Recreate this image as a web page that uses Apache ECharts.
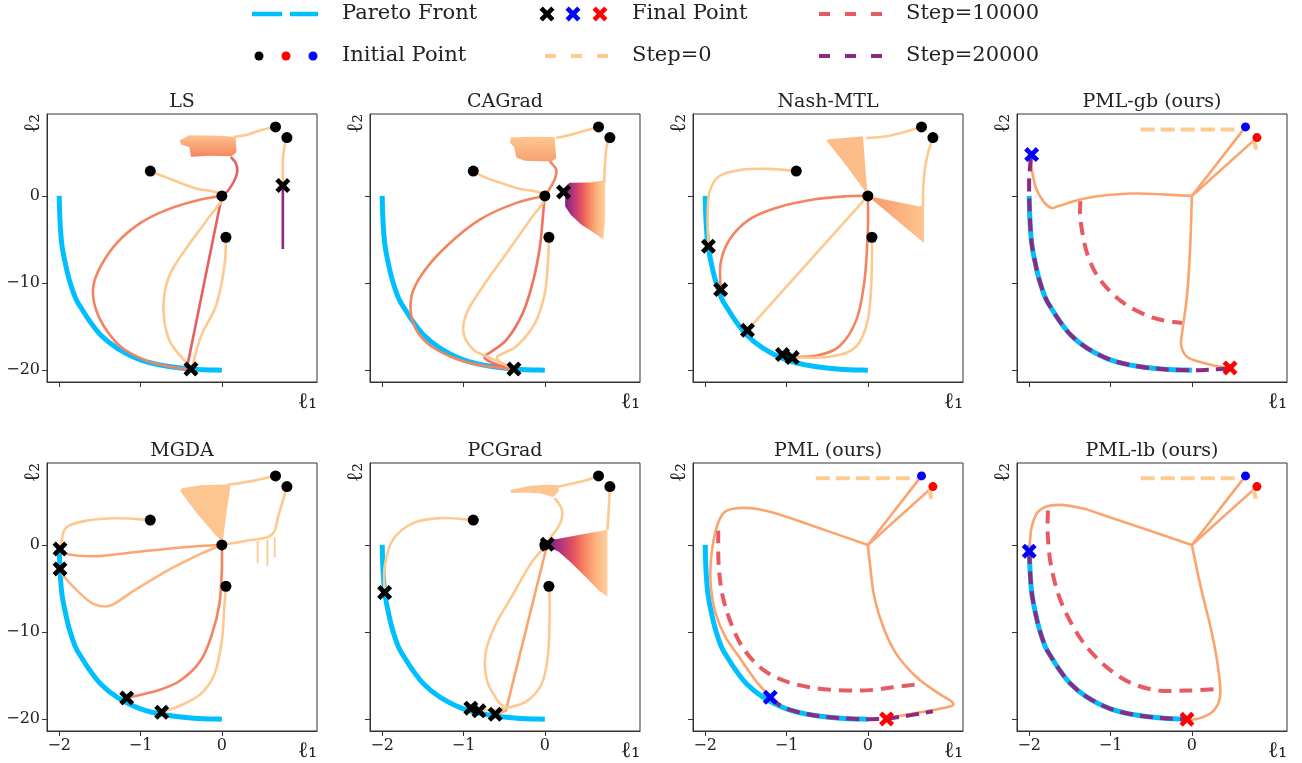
<!DOCTYPE html>
<html><head><meta charset="utf-8">
<script src="https://cdn.jsdelivr.net/npm/echarts@6/dist/echarts.min.js"></script>
<style>html,body{margin:0;padding:0;background:#fff}#c{width:1302px;height:763px}</style>
</head><body><div id="c"></div>
<script>
// ---------- tick labels / shared data ----------
const xTicks = [-2, -1, 0];
const yTicks = [-20, -10, 0];
const panelTitles = ['LS', 'CAGrad', 'Nash-MTL', 'PML-gb (ours)', 'MGDA', 'PCGrad', 'PML (ours)', 'PML-lb (ours)'];

const paretoFront = [[-2,0],[-1.995,-1.8],[-1.985,-3.7],[-1.967,-5.6],[-1.93,-7.5],[-1.88,-9.5],[-1.80,-11.7],[-1.72,-13.0],[-1.63,-14.3],[-1.49,-15.95],[-1.29,-17.45],[-1.0,-18.8],[-0.67,-19.55],[-0.34,-19.88],[0,-20]];
const initPts = [[0.66,7.92],[0.8,6.69],[-0.88,2.85],[0,0],[0.05,-4.74]];
const initBlue = [0.66,7.92];
const initRed = [0.8,6.69];

// ---------- LS ----------
const LS_A_in = [[0.66,7.92],[0.48,7.53],[0.32,7.04],[0.15,6.77]];
const LS_A_out = [[0.11,4.47],[0.17,3.79],[0.19,2.83],[0.15,1.68],[0.07,0.54],[0,0]];
const LS_A_str = [[0,0],[-0.42,-19.3],[-0.38,-19.85]];
const LS_D = [[0,0],[-0.26,-0.42],[-0.67,-1.57],[-1.0,-3.1],[-1.29,-5.39],[-1.49,-8.07],[-1.58,-10.36],[-1.56,-12.66],[-1.45,-14.95],[-1.25,-17.25],[-0.96,-18.78],[-0.67,-19.54],[-0.38,-19.9]];
const LS_C = [[-0.88,2.85],[-0.67,2.07],[-0.34,0.92],[0,0],[-0.18,-2.72],[-0.42,-5.77],[-0.63,-8.83],[-0.71,-11.51],[-0.71,-14.19],[-0.63,-16.86],[-0.45,-19.0],[-0.38,-19.8]];
const LS_E = [[0.05,-4.74],[0.04,-7.3],[-0.01,-10.36],[-0.09,-13.04],[-0.24,-15.72],[-0.32,-18.0],[-0.36,-19.6]];
const LS_B = [[0.8,6.69],[0.77,5.7],[0.75,4.17],[0.75,1.87],[0.75,1.19]];
const LS_B_late = [[0.75,1.19],[0.75,-6.1]];
const LS_cloud = [[-0.52,6.35],[-0.4,6.95],[0.0,6.9],[0.17,6.75],[0.18,5.0],[0.12,4.55],[-0.15,4.6],[-0.38,4.5],[-0.4,5.6],[-0.5,5.9]];
const LS_final = [[-0.38,-19.85],[0.75,1.19]];

// ---------- CAGrad ----------
const CA_A_in = [[0.66,7.92],[0.47,7.42],[0.27,6.92],[0.14,6.65]];
const CA_A_out = [[0.06,3.98],[0.14,3.02],[0.12,1.87],[0.04,0.54],[0,0]];
const CA_A_down = [[0,0],[-0.02,-1.95],[-0.06,-5.77],[-0.14,-9.6],[-0.27,-13.42],[-0.47,-16.48],[-0.68,-18.0],[-0.74,-18.59],[-0.59,-19.35],[-0.39,-19.85]];
const CA_D = [[0,0],[-0.35,-0.8],[-0.80,-2.72],[-1.21,-5.77],[-1.50,-8.83],[-1.64,-11.51],[-1.62,-14.57],[-1.45,-16.86],[-1.17,-18.39],[-0.84,-19.35],[-0.43,-19.85]];
const CA_C = [[-0.88,2.85],[-0.72,2.07],[-0.35,0.92],[0,0],[-0.18,-2.72],[-0.47,-6.54],[-0.76,-10.36],[-0.96,-13.42],[-1.0,-15.72],[-0.88,-17.63],[-0.72,-18.39],[-0.43,-19.6]];
const CA_E = [[0.05,-4.74],[0.04,-7.3],[0,-11.13],[-0.12,-14.57],[-0.35,-17.25],[-0.59,-18.5],[-0.45,-19.6]];
const CA_B = [[0.8,6.69],[0.76,5.7],[0.74,3.79],[0.73,1.87],[0.74,1.5]];
const CA_cloud1 = [[-0.43,6.1],[-0.42,6.7],[-0.2,6.8],[0.12,6.75],[0.14,4.3],[0.08,3.95],[-0.25,4.05],[-0.35,4.4],[-0.38,5.6]];
const CA_cloud2 = [[0.25,0.9],[0.30,1.5],[0.55,1.55],[0.74,1.8],[0.74,-2.9],[0.72,-5.0],[0.6,-4.2],[0.45,-3.3],[0.32,-2.2],[0.25,-1.2]];
const CA_final = [[0.23,0.46],[-0.38,-19.85]];

// ---------- Nash-MTL ----------
const NA_A = [[0.66,7.92],[0.48,7.42],[0.23,6.85],[-0.02,6.65]];
const NA_B = [[0.8,6.69],[0.74,4.93],[0.70,3.02],[0.68,0.73],[0.68,-1.2]];
const NA_C = [[-0.88,2.85],[-1.21,3.1],[-1.54,3.02],[-1.83,2.26],[-1.95,0.34],[-1.97,-2.72],[-1.96,-5.77]];
const NA_D = [[0,0],[-0.26,-0.04],[-0.67,-0.42],[-1.13,-1.38],[-1.46,-2.72],[-1.70,-5.0],[-1.81,-7.69],[-1.81,-10.75]];
const NA_str = [[0,0],[-1.48,-15.41]];
const NA_down = [[0,0],[0,-3.86],[-0.04,-9.6],[-0.14,-14.19],[-0.35,-17.25],[-0.63,-18.32],[-0.94,-18.47]];
const NA_E = [[0.05,-4.74],[0.045,-9.6],[0,-14.19],[-0.14,-17.25],[-0.43,-18.39],[-0.92,-18.59]];
const NA_cloud1 = [[-0.51,6.35],[-0.47,6.5],[-0.06,6.85],[-0.02,1.9],[0,0.1],[-0.26,3.4]];
const NA_cloud2 = [[0,0],[0.64,-1.2],[0.69,-0.9],[0.69,-5.4]];
const NA_final = [[-1.96,-5.77],[-1.81,-10.75],[-1.48,-15.41],[-1.05,-18.2],[-0.93,-18.55]];

// ---------- PML-gb ----------
const GB_s0a = [[-0.63,7.62],[0.6,7.62]];
const GB_s0b = [[0.76,6.4],[0.80,5.1]];
const GB_blue = [[0.66,7.92],[0,0]];
const GB_red = [[0.8,6.69],[0,0]];
const GB_left = [[0,0],[-0.30,0.15],[-0.76,0.27],[-1.29,-0.23],[-1.62,-1.11],[-1.72,-1.38],[-1.81,-0.8],[-1.91,0.73],[-1.96,2.64],[-1.98,4.36],[-1.97,4.74]];
const GB_down = [[0,0],[-0.02,-5.77],[-0.06,-11.51],[-0.12,-15.72],[-0.13,-17.25],[-0.04,-18.59],[0.27,-19.46],[0.47,-19.73]];
const GB_s10 = [[-1.37,-0.61],[-1.37,-2.72],[-1.29,-6.54],[-1.13,-9.6],[-0.84,-12.28],[-0.47,-14.0],[-0.12,-14.57]];
const GB_s20 = [[-1.98,4.3],[-2.0,2.0],[-2.0,0],[-1.995,-1.8],[-1.985,-3.7],[-1.967,-5.6],[-1.93,-7.5],[-1.88,-9.5],[-1.80,-11.7],[-1.72,-13.0],[-1.63,-14.3],[-1.49,-15.95],[-1.29,-17.45],[-1.0,-18.8],[-0.67,-19.55],[-0.34,-19.88],[0,-20],[0.2,-19.95],[0.47,-19.8]];
const GB_finalBlue = [-1.97,4.74];
const GB_finalRed = [0.47,-19.73];

// ---------- MGDA ----------
const MG_A = [[0.66,7.92],[0.40,7.38],[0.15,7.0],[0.08,6.95]];
const MG_cloud = [[-0.51,6.2],[-0.49,6.5],[-0.26,6.85],[0.1,6.95],[0.10,6.3],[0.05,3.17],[0.01,0.3],[-0.09,1.26],[-0.30,3.56],[-0.49,5.9]];
const MG_B = [[0.8,6.69],[0.75,5.09],[0.69,3.17],[0.65,1.64],[0.56,0.88],[0.32,0.5],[0.07,0.11],[0,0]];
const MG_spike1 = [[0.44,0.45],[0.44,-2.1]];
const MG_spike2 = [[0.56,0.6],[0.56,-2.4]];
const MG_spike3 = [[0.65,0.9],[0.65,-1.4]];
const MG_D = [[0,0],[-0.47,-0.27],[-1.08,-0.84],[-1.58,-1.3],[-1.91,-1.03],[-1.99,-0.46]];
const MG_C = [[-0.88,2.85],[-1.29,3.06],[-1.66,2.79],[-1.91,2.03],[-1.97,0.5],[-1.99,-0.46]];
const MG_L = [[0,0],[-0.26,-1.03],[-0.67,-2.94],[-1.08,-5.24],[-1.37,-6.96],[-1.58,-6.77],[-1.78,-5.24],[-1.95,-3.52],[-1.99,-2.75]];
const MG_S = [[0,0],[0,-2.94],[-0.03,-6.77],[-0.12,-10.21],[-0.26,-13.27],[-0.51,-15.56],[-0.79,-16.71],[-1.17,-17.55]];
const MG_E = [[0.05,-4.74],[0.03,-7.15],[0,-10.97],[-0.09,-14.8],[-0.26,-17.09],[-0.51,-18.43],[-0.74,-19.2]];
const MG_final = [[-1.99,-0.46],[-1.99,-2.75],[-1.17,-17.55],[-0.74,-19.2]];

// ---------- PCGrad ----------
const PC_A = [[0.66,7.92],[0.46,7.3],[0.17,6.7]];
const PC_cloud1 = [[-0.42,6.3],[-0.2,6.75],[0.0,6.9],[0.17,6.85],[0.17,6.1],[0.1,5.5],[-0.05,5.9],[-0.2,6.0],[-0.42,6.0]];
const PC_A_out = [[0.12,5.38],[0.21,4.04],[0.19,2.5],[0.08,0.96],[0.03,0.08]];
const PC_cloud2 = [[0.06,0.3],[0.10,0.58],[0.4,1.1],[0.77,1.73],[0.77,-5.96],[0.66,-5.2],[0.50,-3.65],[0.33,-2.1],[0.17,-0.77],[0.08,-0.38]];
const PC_B = [[0.8,6.69],[0.79,4.8],[0.77,1.73]];
const PC_C = [[-0.88,2.85],[-1.29,3.08],[-1.62,2.5],[-1.87,0.58],[-1.97,-2.5],[-1.97,-5.46]];
const PC_str = [[0.03,0.08],[-0.48,-19.04],[-0.61,-19.42]];
const PC_L = [[0.03,0.08],[-0.17,-2.1],[-0.41,-5.96],[-0.62,-9.42],[-0.73,-12.5],[-0.71,-15.58],[-0.58,-17.88],[-0.5,-18.73],[-0.61,-19.42]];
const PC_E = [[0.05,-4.74],[0.06,-7.12],[0.04,-12.5],[-0.04,-15.96],[-0.25,-18.08],[-0.58,-18.85],[-0.83,-18.96]];
const PC_final = [[0.03,0.08],[-1.97,-5.46],[-0.91,-18.73],[-0.81,-19.04],[-0.61,-19.42]];

// ---------- PML ----------
const PM_s0a = [[-0.64,7.65],[0.6,7.65]];
const PM_s0b = [[0.76,6.4],[0.78,5.1]];
const PM_blue = [[0.66,7.92],[0,0]];
const PM_red = [[0.8,6.69],[0,0]];
const PM_left = [[0,0],[-0.51,1.64],[-1.05,3.37],[-1.34,4.09],[-1.58,4.24],[-1.75,3.86],[-1.83,2.79],[-1.89,0.88],[-1.93,-1.8],[-1.93,-4.86],[-1.87,-7.92],[-1.75,-10.59],[-1.58,-12.89],[-1.38,-15.56],[-1.20,-17.48]];
const PM_down = [[0,0],[0.03,-2.56],[0.08,-6.0],[0.19,-9.45],[0.35,-12.5],[0.60,-15.18],[0.88,-17.09],[1.04,-18.05],[1.01,-18.55],[0.72,-19.08],[0.31,-19.77],[0.23,-19.96]];
const PM_s10 = [[-1.84,1.64],[-1.83,-2.94],[-1.75,-7.15],[-1.54,-11.74],[-1.21,-14.8],[-0.72,-16.33],[-0.10,-16.71],[0.31,-16.33],[0.64,-15.95]];
const PM_s20 = [[-1.2,-17.6],[-1.0,-18.8],[-0.67,-19.55],[-0.34,-19.88],[0,-20],[0.3,-19.85],[0.8,-19.1]];
const PM_finalBlue = [-1.20,-17.48];
const PM_finalRed = [0.23,-19.96];

// ---------- PML-lb ----------
const LB_s0a = [[-0.63,7.65],[0.6,7.65]];
const LB_s0b = [[0.76,6.4],[0.79,5.1]];
const LB_blue = [[0.66,7.92],[0,0]];
const LB_red = [[0.8,6.69],[0,0]];
const LB_left = [[0,0],[-1.13,3.56],[-1.37,4.24],[-1.62,4.59],[-1.79,4.4],[-1.91,3.56],[-1.97,2.03],[-1.99,0.5],[-2.0,-0.73]];
const LB_down = [[0,0],[0.11,-4.86],[0.23,-9.45],[0.31,-13.27],[0.35,-17.09],[0.27,-19.0],[0.07,-19.96],[-0.06,-20.02]];
const LB_s10 = [[-1.77,3.94],[-1.77,0.88],[-1.72,-2.94],[-1.58,-7.15],[-1.29,-11.74],[-0.88,-15.18],[-0.47,-16.63],[-0.06,-16.71],[0.35,-16.52]];
const LB_s20 = [[-2.0,-0.73],[-1.995,-1.8],[-1.985,-3.7],[-1.967,-5.6],[-1.93,-7.5],[-1.88,-9.5],[-1.80,-11.7],[-1.72,-13.0],[-1.63,-14.3],[-1.49,-15.95],[-1.29,-17.45],[-1.0,-18.8],[-0.67,-19.55],[-0.34,-19.88],[-0.06,-20.0]];
const LB_finalBlue = [-2.0,-0.73];
const LB_finalRed = [-0.06,-20.0];

// ---------- styling ----------
const C = {front:'#00bfff', light:'#fec98f', lightD:'#fdb57f', salmon:'#f4845f', red:'#e8605e',
  redS:'#ef735d', pml:'#fba46f', s0:'#fdca90', s10:'#e85a62', s20:'#8c2981', axis:'#333', text:'#222'};
const FONT = 'DejaVu Serif';
const XPATH = 'path://M0,2.2 L2.2,0 L5,2.8 L7.8,0 L10,2.2 L7.2,5 L10,7.8 L7.8,10 L5,7.2 L2.2,10 L0,7.8 L2.8,5 Z';

const vGrad = (a, b) => ({type:'linear', x:0, y:0, x2:0, y2:1, colorStops:[{offset:0,color:a},{offset:1,color:b}]});
const hGrad = (stops) => ({type:'linear', x:0, y:0, x2:1, y2:0, colorStops:stops.map((c,i)=>({offset:i/(stops.length-1), color:c}))});
const magmaGrad = hGrad(['#7b2382','#b5367a','#e3505f','#f7845f','#fdb37e','#fdd0a0']);

const L = (d, c, w, extra) => Object.assign({d, c, w: w || 2.6}, extra || {});
const panels = [
  {lines:[L(LS_A_in,C.light),L(LS_A_out,C.red),L(LS_A_str,C.red,2.6,{straight:true}),L(LS_D,C.salmon),L(LS_C,C.light),L(LS_E,C.light),L(LS_B,C.light),L(LS_B_late,C.s20,2.6,{straight:true})],
   clouds:[{p:LS_cloud, f:vGrad('#fdc38c','#f5845f')}], inits:initPts.map(p=>({p,c:'#000'})), finals:LS_final.map(p=>({p,c:'#000'}))},
  {lines:[L(CA_A_in,C.light),L(CA_A_out,C.salmon),L(CA_A_down,C.redS),L(CA_D,C.salmon),L(CA_C,C.light),L(CA_E,C.light),L(CA_B,C.light)],
   clouds:[{p:CA_cloud1, f:vGrad('#fdc790','#f8a172')},{p:CA_cloud2, f:magmaGrad}], inits:initPts.map(p=>({p,c:'#000'})), finals:CA_final.map(p=>({p,c:'#000'}))},
  {lines:[L(NA_A,C.light),L(NA_B,C.light),L(NA_C,C.light),L(NA_D,C.salmon),L(NA_str,C.light,2.6,{straight:true}),L(NA_down,C.salmon),L(NA_E,C.light)],
   clouds:[{p:NA_cloud1, f:'#fdbd88'},{p:NA_cloud2, f:hGrad(['#f7966b','#fbae7b','#fdc590'])}], inits:initPts.map(p=>({p,c:'#000'})), finals:NA_final.map(p=>({p,c:'#000'}))},
  {lines:[L(GB_s0a,C.s0,4,{dash:[14,6],straight:true}),L(GB_s0b,C.s0,4,{dash:[10,4],straight:true}),L(GB_blue,C.pml,2.6,{straight:true}),L(GB_red,C.pml,2.6,{straight:true}),L(GB_left,C.pml),L(GB_down,C.pml),L(GB_s10,C.s10,4,{dash:[13,8]}),L(GB_s20,C.s20,4,{dash:[13,7]})],
   clouds:[], inits:[{p:initBlue,c:'#0000ff',s:9},{p:initRed,c:'#ff0000',s:9}], finals:[{p:GB_finalBlue,c:'#0000ff'},{p:GB_finalRed,c:'#ff0000'}]},
  {lines:[L(MG_A,C.light),L(MG_B,C.light),L(MG_spike1,C.light,1.8,{straight:true}),L(MG_spike2,C.light,1.8,{straight:true}),L(MG_spike3,C.light,1.8,{straight:true}),L(MG_D,C.pml),L(MG_C,C.light),L(MG_L,C.lightD),L(MG_S,C.salmon),L(MG_E,C.light)],
   clouds:[{p:MG_cloud, f:'#fdc590'}], inits:initPts.map(p=>({p,c:'#000'})), finals:MG_final.map(p=>({p,c:'#000'}))},
  {lines:[L(PC_A,C.light),L(PC_A_out,C.light),L(PC_B,C.light),L(PC_C,C.light),L(PC_str,C.pml,2.6,{straight:true}),L(PC_L,C.light),L(PC_E,C.light)],
   clouds:[{p:PC_cloud1, f:'#fdc590'},{p:PC_cloud2, f:magmaGrad}], inits:initPts.map(p=>({p,c:'#000'})), finals:PC_final.map(p=>({p,c:'#000'}))},
  {lines:[L(PM_s0a,C.s0,4,{dash:[14,6],straight:true}),L(PM_s0b,C.s0,4,{dash:[10,4],straight:true}),L(PM_blue,C.pml,2.6,{straight:true}),L(PM_red,C.pml,2.6,{straight:true}),L(PM_left,C.pml),L(PM_down,C.pml),L(PM_s10,C.s10,4,{dash:[13,8]}),L(PM_s20,C.s20,4,{dash:[13,7]})],
   clouds:[], inits:[{p:initBlue,c:'#0000ff',s:9},{p:initRed,c:'#ff0000',s:9}], finals:[{p:PM_finalBlue,c:'#0000ff'},{p:PM_finalRed,c:'#ff0000'}]},
  {lines:[L(LB_s0a,C.s0,4,{dash:[14,6],straight:true}),L(LB_s0b,C.s0,4,{dash:[10,4],straight:true}),L(LB_blue,C.pml,2.6,{straight:true}),L(LB_red,C.pml,2.6,{straight:true}),L(LB_left,C.pml),L(LB_down,C.pml),L(LB_s10,C.s10,4,{dash:[13,8]}),L(LB_s20,C.s20,4,{dash:[13,7]})],
   clouds:[], inits:[{p:initBlue,c:'#0000ff',s:9},{p:initRed,c:'#ff0000',s:9}], finals:[{p:LB_finalBlue,c:'#0000ff'},{p:LB_finalRed,c:'#ff0000'}]}
];

// ---------- smooth path through pixel points (Catmull-Rom -> cubic Bezier) ----------
function pathThrough(px, straight) {
  let d = 'M' + px[0][0] + ',' + px[0][1];
  if (straight || px.length < 3) {
    for (let k = 1; k < px.length; k++) d += ' L' + px[k][0] + ',' + px[k][1];
    return d;
  }
  const t = 1 / 6;
  for (let k = 0; k < px.length - 1; k++) {
    const p0 = px[k - 1] || px[k], p1 = px[k], p2 = px[k + 1], p3 = px[k + 2] || px[k + 1];
    const c1 = [p1[0] + (p2[0] - p0[0]) * t, p1[1] + (p2[1] - p0[1]) * t];
    const c2 = [p2[0] - (p3[0] - p1[0]) * t, p2[1] - (p3[1] - p1[1]) * t];
    d += ' C' + c1[0] + ',' + c1[1] + ' ' + c2[0] + ',' + c2[1] + ' ' + p2[0] + ',' + p2[1];
  }
  return d;
}

// ---------- layout ----------
const gridLefts = [47, 370, 693, 1017];
const rowTops = [114, 463];
const GW = 270, GH = 268;
const minus = v => (v < 0 ? '\u2212' : '') + Math.abs(v);

const grids = [], xAxes = [], yAxes = [], series = [], graphics = [];
panels.forEach((pn, i) => {
  const row = Math.floor(i / 4), col = i % 4;
  grids.push({left: gridLefts[col], top: rowTops[row], width: GW, height: GH, show: true, borderColor: C.axis, borderWidth: 1, backgroundColor: 'transparent'});
  xAxes.push({gridIndex: i, type: 'value', min: -2.15, max: 1.17,
    axisLine: {onZero: false, lineStyle: {color: C.axis, width: 1}},
    axisTick: {customValues: xTicks, length: 5, lineStyle: {color: C.axis}},
    axisLabel: {show: row === 1, customValues: xTicks, formatter: minus, fontFamily: FONT, fontSize: 16, color: C.text, margin: 7},
    splitLine: {show: false},
    name: 'ℓ₁', nameLocation: 'end', nameGap: 0,
    nameTextStyle: {fontFamily: FONT, fontSize: 22, color: C.text, align: 'right', verticalAlign: 'top', padding: [9, 0, 0, 0]}});
  yAxes.push({gridIndex: i, type: 'value', min: -21.35, max: 9.4,
    axisLine: {onZero: false, lineStyle: {color: C.axis, width: 1}},
    axisTick: {customValues: yTicks, length: 5, lineStyle: {color: C.axis}},
    axisLabel: {show: col === 0, customValues: yTicks, formatter: minus, fontFamily: FONT, fontSize: 16, color: C.text, margin: 7},
    splitLine: {show: false},
    name: 'ℓ₂', nameLocation: 'end', nameGap: 0, nameRotate: 90,
    nameTextStyle: {fontFamily: FONT, fontSize: 22, color: C.text, align: 'right', verticalAlign: 'bottom', padding: [0, 0, 3, 0]}});
  const base = {xAxisIndex: i, yAxisIndex: i, silent: true, animation: false};
  const curve = (pts, color, width, dash, straight, z) => Object.assign({type: 'custom', z, data: [pts[0]], encode: {x: 0, y: 1},
    renderItem: (params, api) => ({type: 'path', shape: {pathData: pathThrough(pts.map(p => api.coord(p)), straight)},
      style: {fill: null, stroke: color, lineWidth: width, lineDash: dash || null, lineCap: 'butt', lineJoin: 'round'}})}, base);
  // Pareto front
  series.push(curve(paretoFront, C.front, 5, null, false, 2));
  // clouds
  pn.clouds.forEach(cl => {
    series.push(Object.assign({type: 'custom', z: 3, data: [cl.p[0]], encode: {x: 0, y: 1},
      renderItem: (params, api) => ({type: 'polygon', shape: {points: cl.p.map(pt => api.coord(pt))}, style: {fill: cl.f, stroke: null}})}, base));
  });
  // trajectories
  pn.lines.forEach(ln => series.push(curve(ln.d, ln.c, ln.w, ln.dash, ln.straight, ln.dash ? 5 : 4)));
  // initial points
  series.push(Object.assign({type: 'scatter', z: 7, symbol: 'circle',
    data: pn.inits.map(o => ({value: o.p, symbolSize: o.s || 11, itemStyle: {color: o.c, opacity: 1}}))}, base));
  // final points
  series.push(Object.assign({type: 'scatter', z: 8, symbol: XPATH, symbolSize: 15,
    data: pn.finals.map(o => ({value: o.p, itemStyle: {color: o.c, opacity: 1}}))}, base));
  // title
  graphics.push({type: 'text', x: gridLefts[col] + GW / 2, y: rowTops[row] - 12,
    style: {text: panelTitles[i], fontFamily: FONT, fontSize: 19, fill: C.text, textAlign: 'center', textVerticalAlign: 'middle'}});
});

// ---------- legend (graphic) ----------
const xPoly = (cx, cy, s) => [[0,2.2],[2.2,0],[5,2.8],[7.8,0],[10,2.2],[7.2,5],[10,7.8],[7.8,10],[5,7.2],[2.2,10],[0,7.8],[2.8,5]].map(q => [cx + (q[0] - 5) * s / 10, cy + (q[1] - 5) * s / 10]);
const legText = (t, x, y) => ({type: 'text', x, y, style: {text: t, fontFamily: FONT, fontSize: 21, fill: C.text, textAlign: 'left', textVerticalAlign: 'middle'}});
const legLine = (x1, x2, y, color, dash, w) => ({type: 'line', shape: {x1, y1: y, x2, y2: y}, style: {stroke: color, lineWidth: w, lineDash: dash, lineCap: 'butt'}});
graphics.push(
  legLine(252, 318, 14, C.front, [30, 8], 4.5),
  legText('Pareto Front', 342, 14),
  {type: 'polygon', shape: {points: xPoly(547, 14, 15)}, style: {fill: '#000'}},
  {type: 'polygon', shape: {points: xPoly(573, 14, 15)}, style: {fill: '#0000ff'}},
  {type: 'polygon', shape: {points: xPoly(600, 14, 15)}, style: {fill: '#ff0000'}},
  legText('Final Point', 632, 14),
  legLine(819, 882, 14, C.s10, [11, 15], 4),
  legText('Step=10000', 906, 14),
  {type: 'circle', shape: {cx: 259, cy: 56, r: 4.5}, style: {fill: '#000'}},
  {type: 'circle', shape: {cx: 286, cy: 56, r: 4.5}, style: {fill: '#ff0000'}},
  {type: 'circle', shape: {cx: 313, cy: 56, r: 4.5}, style: {fill: '#0000ff'}},
  legText('Initial Point', 342, 56),
  legLine(545, 608, 56, C.s0, [11, 15], 4),
  legText('Step=0', 632, 56),
  legLine(819, 882, 56, C.s20, [11, 15], 4),
  legText('Step=20000', 906, 56)
);

const chart = echarts.init(document.getElementById('c'), null, {renderer: 'canvas'});
chart.setOption({animation: false, backgroundColor: '#fff', grid: grids, xAxis: xAxes, yAxis: yAxes, series, graphic: graphics});
</script></body></html>
